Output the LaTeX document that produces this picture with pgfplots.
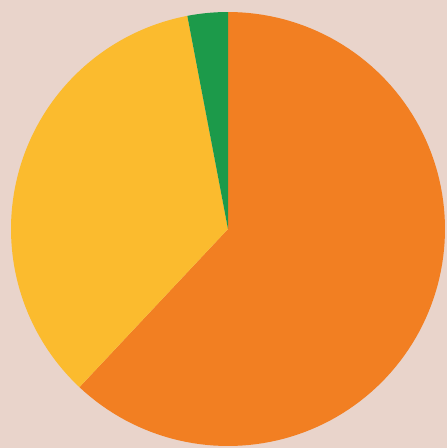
\documentclass[border=0pt]{standalone}
\usepackage{pgfplots}
\usepackage{pgfplotstable}
\pgfplotsset{compat=1.18}
\usetikzlibrary{backgrounds}
\definecolor{bg}{HTML}{E9D4CB}
\definecolor{sorange}{HTML}{F27F22}
\definecolor{syellow}{HTML}{FBBB2E}
\definecolor{sgreen}{HTML}{1C9A4A}
\pgfplotstableread{
share
62
35
3
}\piedata
\begin{document}
\begin{tikzpicture}[show background rectangle, tight background, background rectangle/.style={fill=bg,draw=none}]
\pgfplotstablegetelem{0}{share}\of\piedata \let\va\pgfplotsretval
\pgfplotstablegetelem{1}{share}\of\piedata \let\vb\pgfplotsretval
\pgfplotstablegetelem{2}{share}\of\piedata \let\vc\pgfplotsretval
\pgfmathsetmacro{\aA}{90}
\pgfmathsetmacro{\aB}{90-3.6*\va}
\pgfmathsetmacro{\aC}{\aB-3.6*\vb}
\pgfmathsetmacro{\aD}{\aC-3.6*\vc}
\begin{axis}[width=447pt,height=448pt,scale only axis,xmin=0,xmax=447,ymin=0,ymax=448,axis lines=none,ticks=none,clip=true]
\path (rel axis cs:0,0) rectangle (rel axis cs:1,1);
\addplot[draw=none,fill=sorange,domain=\aB:\aA,samples=120] ({228+217*cos(x)},{219+217*sin(x)}) -- (axis cs:228,219) -- cycle;
\addplot[draw=none,fill=syellow,domain=\aC:\aB,samples=80] ({228+217*cos(x)},{219+217*sin(x)}) -- (axis cs:228,219) -- cycle;
\addplot[draw=none,fill=sgreen,domain=\aD:\aC,samples=10] ({228+217*cos(x)},{219+217*sin(x)}) -- (axis cs:228,219) -- cycle;
\end{axis}
\end{tikzpicture}
\end{document}
